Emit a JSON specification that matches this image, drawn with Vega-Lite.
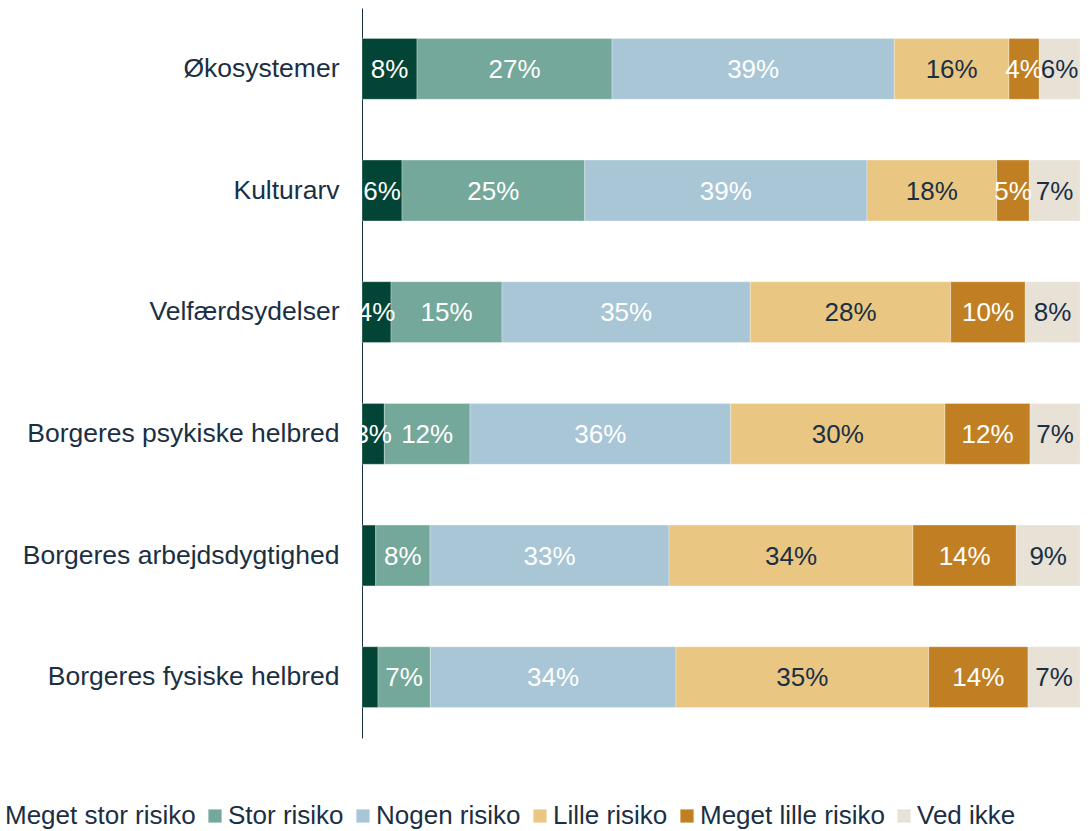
{
  "$schema": "https://vega.github.io/schema/vega-lite/v6.json",
  "autosize": "none",
  "width": 718,
  "height": 730,
  "padding": {"left": 362, "top": 8, "right": 9, "bottom": 93},
  "background": "white",
  "config": {
    "view": {"stroke": null},
    "font": "Liberation Sans",
    "text": {"font": "Liberation Sans"}
  },
  "data": {
    "values": [
      {"c": "Økosystemer", "r": "Meget stor risiko", "k": 1, "v": 0.0766},
      {"c": "Økosystemer", "r": "Stor risiko", "k": 2, "v": 0.2716},
      {"c": "Økosystemer", "r": "Nogen risiko", "k": 3, "v": 0.3932},
      {"c": "Økosystemer", "r": "Lille risiko", "k": 4, "v": 0.1597},
      {"c": "Økosystemer", "r": "Meget lille risiko", "k": 5, "v": 0.0422},
      {"c": "Økosystemer", "r": "Ved ikke", "k": 6, "v": 0.0567},
      {"c": "Kulturarv", "r": "Meget stor risiko", "k": 1, "v": 0.0557},
      {"c": "Kulturarv", "r": "Stor risiko", "k": 2, "v": 0.2545},
      {"c": "Kulturarv", "r": "Nogen risiko", "k": 3, "v": 0.3931},
      {"c": "Kulturarv", "r": "Lille risiko", "k": 4, "v": 0.1807},
      {"c": "Kulturarv", "r": "Meget lille risiko", "k": 5, "v": 0.0454},
      {"c": "Kulturarv", "r": "Ved ikke", "k": 6, "v": 0.0706},
      {"c": "Velfærdsydelser", "r": "Meget stor risiko", "k": 1, "v": 0.0404},
      {"c": "Velfærdsydelser", "r": "Stor risiko", "k": 2, "v": 0.1546},
      {"c": "Velfærdsydelser", "r": "Nogen risiko", "k": 3, "v": 0.3458},
      {"c": "Velfærdsydelser", "r": "Lille risiko", "k": 4, "v": 0.2791},
      {"c": "Velfærdsydelser", "r": "Meget lille risiko", "k": 5, "v": 0.1039},
      {"c": "Velfærdsydelser", "r": "Ved ikke", "k": 6, "v": 0.0762},
      {"c": "Borgeres psykiske helbred", "r": "Meget stor risiko", "k": 1, "v": 0.0311},
      {"c": "Borgeres psykiske helbred", "r": "Stor risiko", "k": 2, "v": 0.1193},
      {"c": "Borgeres psykiske helbred", "r": "Nogen risiko", "k": 3, "v": 0.3631},
      {"c": "Borgeres psykiske helbred", "r": "Lille risiko", "k": 4, "v": 0.2985},
      {"c": "Borgeres psykiske helbred", "r": "Meget lille risiko", "k": 5, "v": 0.1184},
      {"c": "Borgeres psykiske helbred", "r": "Ved ikke", "k": 6, "v": 0.0696},
      {"c": "Borgeres arbejdsdygtighed", "r": "Meget stor risiko", "k": 1, "v": 0.0191},
      {"c": "Borgeres arbejdsdygtighed", "r": "Stor risiko", "k": 2, "v": 0.0756},
      {"c": "Borgeres arbejdsdygtighed", "r": "Nogen risiko", "k": 3, "v": 0.3329},
      {"c": "Borgeres arbejdsdygtighed", "r": "Lille risiko", "k": 4, "v": 0.3398},
      {"c": "Borgeres arbejdsdygtighed", "r": "Meget lille risiko", "k": 5, "v": 0.1439},
      {"c": "Borgeres arbejdsdygtighed", "r": "Ved ikke", "k": 6, "v": 0.0887},
      {"c": "Borgeres fysiske helbred", "r": "Meget stor risiko", "k": 1, "v": 0.0223},
      {"c": "Borgeres fysiske helbred", "r": "Stor risiko", "k": 2, "v": 0.0728},
      {"c": "Borgeres fysiske helbred", "r": "Nogen risiko", "k": 3, "v": 0.3422},
      {"c": "Borgeres fysiske helbred", "r": "Lille risiko", "k": 4, "v": 0.3520},
      {"c": "Borgeres fysiske helbred", "r": "Meget lille risiko", "k": 5, "v": 0.1383},
      {"c": "Borgeres fysiske helbred", "r": "Ved ikke", "k": 6, "v": 0.0724}
    ]
  },
  "transform": [
    {"stack": "v", "groupby": ["c"], "sort": [{"field": "k", "order": "ascending"}], "as": ["v0", "v1"]},
    {"calculate": "(datum.v0 + datum.v1) / 2", "as": "mid"}
  ],
  "encoding": {
    "y": {
      "field": "c",
      "type": "nominal",
      "sort": null,
      "title": null,
      "scale": {"paddingInner": 0.5, "paddingOuter": 0.25},
      "axis": {
        "domainColor": "#1b2f44",
        "domainWidth": 1,
        "ticks": false,
        "tickSize": 0,
        "labelPadding": 23,
        "labelFontSize": 26.5,
        "labelColor": "#1b2f44",
        "labelFont": "Liberation Sans",
        "labelLimit": 600,
        "grid": false
      }
    }
  },
  "layer": [
    {
      "mark": {"type": "bar", "stroke": "white", "strokeWidth": 0.5, "strokeOpacity": 0.6},
      "encoding": {
        "x": {"field": "v0", "type": "quantitative", "scale": {"domain": [0, 1], "nice": false, "zero": true}, "axis": null},
        "x2": {"field": "v1"},
        "color": {
          "field": "r",
          "type": "nominal",
          "sort": ["Meget stor risiko", "Stor risiko", "Nogen risiko", "Lille risiko", "Meget lille risiko", "Ved ikke"],
          "scale": {
            "domain": ["Meget stor risiko", "Stor risiko", "Nogen risiko", "Lille risiko", "Meget lille risiko", "Ved ikke"],
            "range": ["#024436", "#74a89a", "#a8c6d6", "#e9c782", "#c17f23", "#e7e1d6"]
          },
          "legend": {
            "title": null,
            "orient": "none",
            "direction": "horizontal",
            "legendX": -383,
            "legendY": 795,
            "padding": 0,
            "symbolType": "square",
            "symbolSize": 174,
            "symbolStrokeWidth": 0,
            "labelOffset": 0,
            "columnPadding": 6,
            "labelFontSize": 26,
            "labelColor": "#1b2f44",
            "labelFont": "Liberation Sans",
            "labelLimit": 400
          }
        }
      }
    },
    {
      "transform": [{"filter": "datum.v >= 0.025"}],
      "mark": {"type": "text", "fontSize": 26, "font": "Liberation Sans", "align": "center", "baseline": "middle", "dy": 1},
      "encoding": {
        "x": {"field": "mid", "type": "quantitative"},
        "text": {"field": "v", "type": "quantitative", "format": ".0%"},
        "color": {
          "condition": {"test": "datum.r === 'Lille risiko' || datum.r === 'Ved ikke'", "value": "#1b2f44"},
          "value": "white"
        }
      }
    }
  ]
}
